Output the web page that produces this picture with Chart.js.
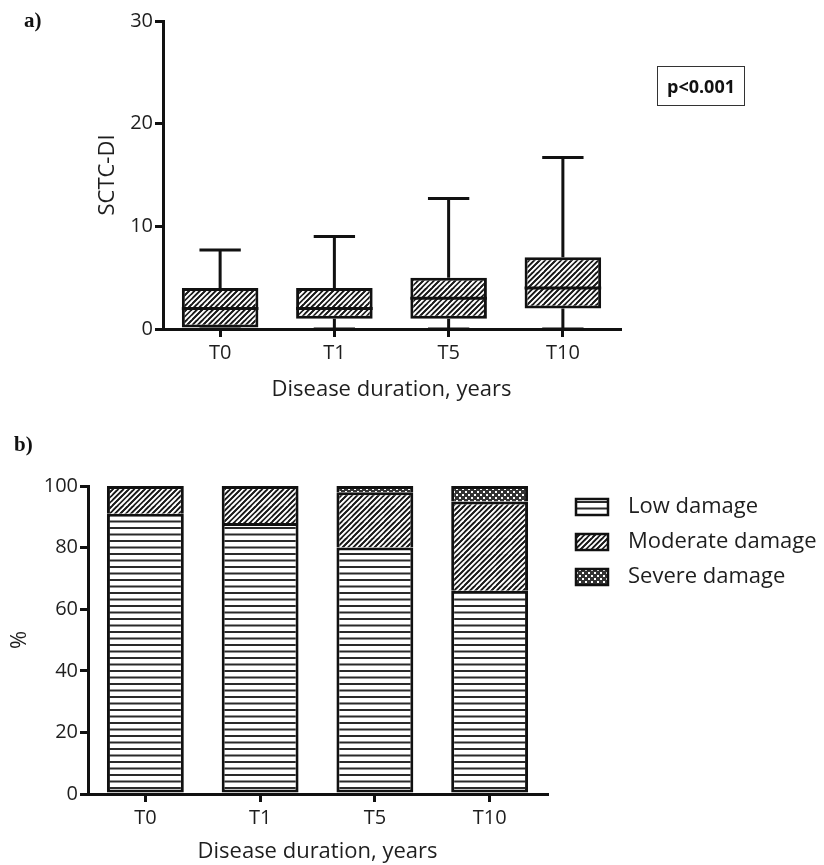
<!DOCTYPE html>
<html>
<head>
<meta charset="utf-8">
<script src="https://cdn.jsdelivr.net/npm/chart.js@4.4.0/dist/chart.umd.min.js"></script>
<style>
  body { margin: 0; background: #fff; }
  #wrap { position: relative; width: 824px; height: 865px; overflow: hidden; }
  canvas { position: absolute; left: 0; }
  .tag { position: absolute; font-family: "Liberation Serif", serif; font-weight: bold; font-size: 21px; color: #111; }
  #pval { position: absolute; left: 657px; top: 66px; width: 86px; height: 38px; border: 1.5px solid #333;
          font-family: "Open Sans", sans-serif; font-weight: bold; font-size: 18px; color: #111;
          display: flex; align-items: center; justify-content: center; }
</style>
</head>
<body>
<div id="wrap">
  <canvas id="boxChart" width="824" height="410" style="top:0"></canvas>
  <canvas id="damageChart" width="824" height="455" style="top:410px"></canvas>
  <div class="tag" style="left:24px; top:8px">a)</div>
  <div class="tag" style="left:14px; top:432px">b)</div>
  <div id="pval">p&lt;0.001</div>
</div>
<script>
// timepoints
var categories = ['T0', 'T1', 'T5', 'T10'];

// panel a: SCTC-DI box plot summary
var whiskerMin = [0, 0, 0, 0];
var q1 = [0, 1, 1, 2];
var median = [2, 2, 3, 4];
var q3 = [4, 4, 5, 7];
var whiskerMax = [7.7, 9, 12.7, 16.7];
var yTicksA = [0, 10, 20, 30];

// panel b: damage category percentages
var lowDamage = [91, 88, 80, 66];
var moderateDamage = [9, 12, 18, 29];
var severeDamage = [0, 0, 2, 5];
var yTicksB = [0, 20, 40, 60, 80, 100];

var FONT = '"Open Sans", sans-serif';
var INK = '#111';
var TXT = '#1e1e1e';

function makePattern(kind) {
    var c = document.createElement('canvas');
    var g = c.getContext('2d');
    if (kind === 'hlines') {
        c.width = 4; c.height = 13;
        g.fillStyle = '#fff'; g.fillRect(0, 0, 4, 13);
        g.fillStyle = '#2a2a2a';
        g.fillRect(0, 0, 4, 2);
        g.fillRect(0, 6.5, 4, 2);
    } else if (kind === 'diag') {
        var s = 16;
        c.width = s; c.height = s;
        g.fillStyle = '#fff'; g.fillRect(0, 0, s, s);
        g.strokeStyle = '#1a1a1a'; g.lineWidth = 1.7;
        for (var n = 0; n <= 6; n++) {
            var k = n * s / 3;
            g.beginPath();
            g.moveTo(k + 2, -2);
            g.lineTo(k - s - 2, s + 2);
            g.stroke();
            g.beginPath();
            g.moveTo(k - s + 2, -2);
            g.lineTo(k - 2 * s - 2, s + 2);
            g.stroke();
        }
    } else {
        c.width = 6; c.height = 6;
        g.fillStyle = '#333'; g.fillRect(0, 0, 6, 6);
        g.fillStyle = '#fff';
        g.fillRect(0, 0, 2, 2);
        g.fillRect(3, 3, 2, 2);
    }
    return g.createPattern(c, 'repeat');
}

function axisStyle(extra) {
    return Object.assign({
        grid: { display: true, drawOnChartArea: false, drawTicks: true, tickLength: 8, lineWidth: 3, color: INK },
        border: { display: true, color: INK, width: 3 }
    }, extra);
}

// whiskers, caps and median lines drawn from the summary arrays
var boxPlotLines = {
    id: 'boxPlotLines',
    afterDatasetsDraw: function(chart) {
        var ctx = chart.ctx;
        var y = chart.scales.y;
        var meta = chart.getDatasetMeta(0);
        ctx.save();
        ctx.strokeStyle = INK;
        ctx.lineWidth = 3;
        meta.data.forEach(function(el, i) {
            var x = el.x, w = el.width, cap = w * 0.27;
            ctx.beginPath();
            ctx.moveTo(x - w / 2, y.getPixelForValue(median[i]));
            ctx.lineTo(x + w / 2, y.getPixelForValue(median[i]));
            ctx.moveTo(x, y.getPixelForValue(q3[i]));
            ctx.lineTo(x, y.getPixelForValue(whiskerMax[i]));
            ctx.moveTo(x, y.getPixelForValue(q1[i]));
            ctx.lineTo(x, y.getPixelForValue(whiskerMin[i]));
            ctx.moveTo(x - cap, y.getPixelForValue(whiskerMax[i]));
            ctx.lineTo(x + cap, y.getPixelForValue(whiskerMax[i]));
            ctx.moveTo(x - cap, y.getPixelForValue(whiskerMin[i]));
            ctx.lineTo(x + cap, y.getPixelForValue(whiskerMin[i]));
            ctx.stroke();
        });
        ctx.restore();
    }
};

var ctxA = document.getElementById('boxChart').getContext('2d');
var boxChart = new Chart(ctxA, {
    type: 'bar',
    data: {
        labels: categories,
        datasets: [{
            label: 'SCTC-DI',
            data: categories.map(function(c, i) { return [q1[i], q3[i]]; }),
            backgroundColor: makePattern('diag'),
            borderColor: INK,
            borderWidth: 3,
            borderSkipped: false,
            barPercentage: 0.67,
            categoryPercentage: 1
        }]
    },
    options: {
        responsive: false,
        animation: false,
        layout: { padding: { left: 0, right: 204, top: 21, bottom: 0 } },
        plugins: { legend: { display: false }, tooltip: { enabled: false } },
        scales: {
            x: axisStyle({
                grid: { display: true, offset: false, drawOnChartArea: false, tickLength: 8, lineWidth: 3, color: INK },
                ticks: { color: TXT, font: { family: FONT, size: 20 }, padding: 4 },
                title: { display: true, text: 'Disease duration, years', color: TXT,
                         font: { family: FONT, size: 22 }, padding: { top: 0, bottom: 7 } },
                afterFit: function(s) { s.height = 81; }
            }),
            y: axisStyle({
                min: 0, max: 30,
                afterBuildTicks: function(s) { s.ticks = yTicksA.map(function(v) { return { value: v }; }); },
                ticks: { color: TXT, font: { family: FONT, size: 20 }, padding: 2 },
                title: { display: true, text: 'SCTC-DI', color: TXT,
                         font: { family: FONT, size: 22 }, padding: { top: 95, bottom: 0 } },
                afterFit: function(s) { s.width = 163; }
            })
        }
    },
    plugins: [boxPlotLines]
});

// legend drawn to the right of the stacked bars
var damageLegend = {
    id: 'damageLegend',
    afterDraw: function(chart) {
        var ctx = chart.ctx;
        ctx.save();
        chart.data.datasets.forEach(function(ds, i) {
            var cy = 97 + i * 35;
            ctx.fillStyle = ds.backgroundColor;
            ctx.fillRect(576, cy - 8, 32, 16);
            ctx.strokeStyle = INK;
            ctx.lineWidth = 2.5;
            ctx.strokeRect(576, cy - 8, 32, 16);
            ctx.fillStyle = TXT;
            ctx.font = '22px ' + FONT;
            ctx.textBaseline = 'middle';
            ctx.fillText(ds.label, 628, cy);
        });
        ctx.restore();
    }
};

var ctxB = document.getElementById('damageChart').getContext('2d');
var damageChart = new Chart(ctxB, {
    type: 'bar',
    data: {
        labels: categories,
        datasets: [
            { label: 'Low damage', data: lowDamage, backgroundColor: makePattern('hlines'), borderSkipped: false },
            { label: 'Moderate damage', data: moderateDamage, backgroundColor: makePattern('diag'), borderSkipped: 'bottom' },
            { label: 'Severe damage', data: severeDamage, backgroundColor: makePattern('dots'), borderSkipped: 'bottom' }
        ].map(function(d) {
            return Object.assign(d, { borderColor: INK, borderWidth: 3, barPercentage: 0.67, categoryPercentage: 1 });
        })
    },
    options: {
        responsive: false,
        animation: false,
        layout: { padding: { left: 0, right: 277, top: 76, bottom: 0 } },
        plugins: { legend: { display: false }, tooltip: { enabled: false } },
        scales: {
            x: axisStyle({
                stacked: true,
                grid: { display: true, offset: false, drawOnChartArea: false, tickLength: 8, lineWidth: 3, color: INK },
                ticks: { color: TXT, font: { family: FONT, size: 20 }, padding: 4 },
                title: { display: true, text: 'Disease duration, years', color: TXT,
                         font: { family: FONT, size: 22 }, padding: { top: 0, bottom: 0 } },
                afterFit: function(s) { s.height = 71; }
            }),
            y: axisStyle({
                stacked: true,
                min: 0, max: 100,
                afterBuildTicks: function(s) { s.ticks = yTicksB.map(function(v) { return { value: v }; }); },
                ticks: { color: TXT, font: { family: FONT, size: 20 }, padding: 2 },
                title: { display: true, text: '%', color: TXT,
                         font: { family: FONT, size: 22 }, padding: { top: 7, bottom: 0 } },
                afterFit: function(s) { s.width = 88; }
            })
        }
    },
    plugins: [damageLegend]
});
</script>
</body>
</html>
